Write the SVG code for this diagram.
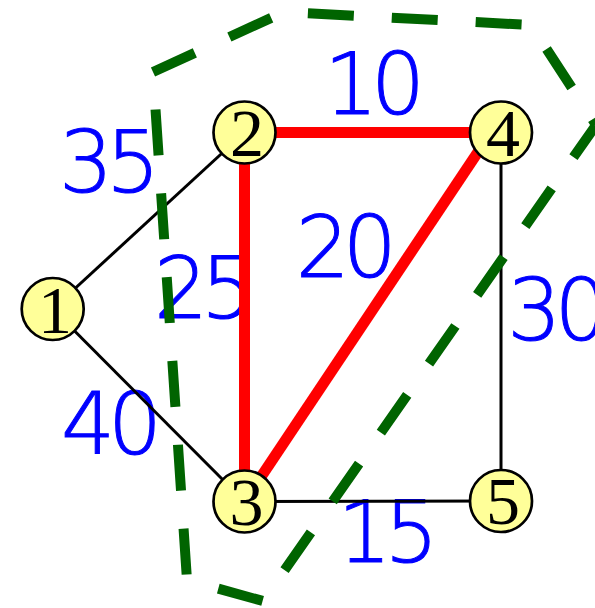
<svg xmlns="http://www.w3.org/2000/svg" width="595" height="608" viewBox="0 0 595 608">
<style>
.w{font-family:"DejaVu Sans",sans-serif;font-size:85px;font-weight:300;fill:#0000ff;stroke:#0000ff;stroke-width:1;letter-spacing:-7px}
.e{stroke:#000;stroke-width:3;fill:none}
.r{stroke:#ff0000;stroke-width:11;fill:none}
.n circle{fill:#ffff99;stroke:#000;stroke-width:2.7}
.n text{font-family:"Liberation Serif","Times New Roman",serif;font-size:68px;fill:#000;text-anchor:middle}
.g{stroke:#006400;stroke-width:10;fill:none;stroke-dasharray:46 38}
</style>
<g id="labels">
<text class="w" x="324" y="113.5">10</text>
<text class="w" x="59" y="191.7">35</text>
<text class="w" x="154" y="318.3">25</text>
<text class="w" x="61" y="454">40</text>
<text class="w" x="295.7" y="276.7">20</text>
<text class="w" x="507.3" y="340">30</text>
<text class="w" x="337.4" y="561.7">15</text>
</g>
<g id="connectors">
<line class="e" x1="52.7" y1="309" x2="244.5" y2="132.5"/>
<line class="e" x1="52.7" y1="309" x2="244.5" y2="501.5"/>
<line class="e" x1="244.5" y1="501.5" x2="501" y2="501"/>
<line class="e" x1="501" y1="132.5" x2="501" y2="501"/>
<line class="r" x1="244.5" y1="132.5" x2="501" y2="132.5"/>
<line class="r" x1="244.5" y1="132.5" x2="244.5" y2="501.5"/>
<line class="r" x1="244.5" y1="501.5" x2="491" y2="132.5"/>
</g>
<g id="node1" class="n"><circle cx="52.7" cy="309" r="31"/><text x="55" y="332.5">1</text></g>
<g id="node2" class="n"><circle cx="244.5" cy="132.5" r="31"/><text x="247" y="155.5">2</text></g>
<g id="node3" class="n"><circle cx="244.5" cy="501.5" r="31"/><text x="246.5" y="524.5">3</text></g>
<g id="node4" class="n"><circle cx="501" cy="132.5" r="31"/><text x="503" y="155.5">4</text></g>
<g id="node5" class="n"><circle cx="501" cy="501" r="31"/><text x="503" y="524">5</text></g>
<g id="cut">
<path class="g" d="M153,72 L284,12 L531,25 L596,125 L263,601 L187,580 Z"/>
</g>
</svg>
